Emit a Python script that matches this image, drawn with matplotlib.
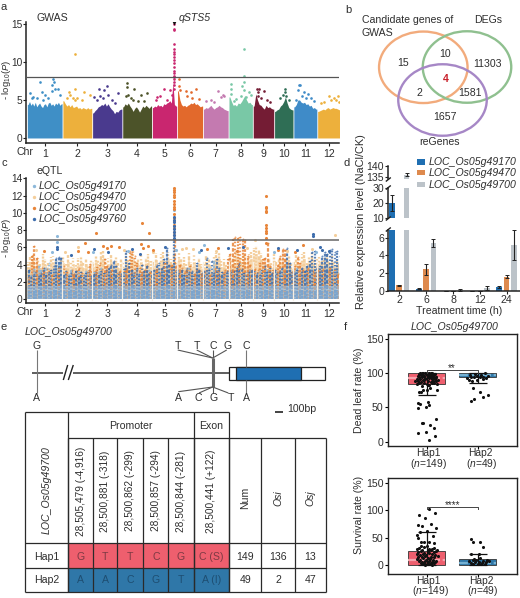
import matplotlib
matplotlib.use('Agg')
import matplotlib.pyplot as plt
from matplotlib.patches import Ellipse, Rectangle

plt.rcParams['font.family'] = ['Liberation Sans', 'DejaVu Sans']
plt.rcParams['mathtext.fontset'] = 'custom'
plt.rcParams['mathtext.rm'] = 'Liberation Sans'
plt.rcParams['mathtext.it'] = 'Liberation Sans:italic'
plt.rcParams['mathtext.default'] = 'regular'
INK = '#2e2e2e'
plt.rcParams['text.color'] = INK

# ---------- data ----------
chroms = ['1','2','3','4','5','6','7','8','9','10','11','12']
chr_sizes = [41.5,34.5,35,34.5,29,30,29.5,28,24.5,22,27.5,27]
chr_colors = ['#3F8FC6','#EDB03C','#4A3A8E','#4C5329','#C9266F','#E2692C','#C47AB0','#79C8A6','#741C34','#2F6E55','#3F8BC8','#EDB03C']
gwas_body = [
 [4.4,4.8,4.3,4.6,4.2,4.7,4.1,4.4,4.6,4.2,4.0,4.4,4.5,4.1,4.6,4.7,4.3,4.5,4.2,4.6,4.4,4.7,4.3,4.5],
 [4.9,4.5,4.2,4.4,4.1,4.4,4.0,4.1,4.2,3.9,4.0,3.8,4.0,3.9,3.8,4.0,3.8,3.9],
 [3.3,3.6,3.8,4.1,4.2,4.4,4.3,4.6,4.2,4.5,4.1,3.8,3.6,3.2,3.5,3.4,3.7,3.8],
 [4.1,4.5,4.3,4.6,4.2,3.9,3.5,3.9,4.1,3.8,3.4,3.8,4.2,4.0,4.3,4.1,3.9,4.2],
 [4.0,4.2,4.1,4.4,4.2,4.3,4.1,4.5,4.4,4.6,4.7,4.9,4.6,7.4,4.4,4.2],
 [6.2,5.0,4.4,4.2,4.3,4.1,4.3,4.4,4.6,4.5,4.7,4.4,4.5,4.3,4.1,4.2],
 [3.8,4.0,3.9,4.1,4.3,4.0,3.8,4.0,4.1,4.3,4.1,4.0,3.8,3.7,3.6],
 [5.4,4.8,4.3,4.4,4.2,4.6,4.5,4.8,5.2,5.6,5.0,4.6,4.7,4.4],
 [4.2,5.8,5.0,4.4,4.3,4.0,3.8,4.3,4.0,4.1,3.9,3.8],
 [3.5,3.7,3.8,4.2,4.4,4.8,5.4,4.6,4.0,3.8,3.7],
 [4.1,4.4,5.0,5.0,4.7,4.6,4.7,4.4,4.5,4.2,4.3,3.9,4.0,3.8],
 [3.5,3.6,3.7,3.8,3.7,3.9,4.0,3.8,3.9,4.0,3.9,3.9,3.8,3.7],
]
gwas_pos = [
 [15,31,32,30,33,37,3,7,17,21,29,39,11,25,5,19],
 [14,15,25,32,7,9,17,23,5,12,15],
 [8,17,14,30,2,9,19,23,12,5,27],
 [5,5,14,22,29,6,10,4,18,12,25],
 [26,26,26,26,26,26,26,26,26,26,26,26,26,26,26,26,26,26,26,14,21,6,9.5,17.5,4,23.5],
 [2,1.5,10,16,21.5,3.5,11.5,17.5,25.5],
 [17.5,23,21,9,3,13,25],
 [17.5,17.5,3,3,17.5,16,17.5,24,26,3,14,20,8,6],
 [5,7,6,12.5,6,17,20.5,9],
 [12,13,10,6,17,14],
 [6.5,7.5,5.5,12.5,16.5,10,20,24,2.5,14],
 [24,14,20,16,8,22,4,26],
]
gwas_val = [
 [7.3,7.7,7.4,7.0,6.5,6.4,5.9,5.4,6.0,5.7,6.2,5.6,5.2,5.3,5.2,5.0],
 [11.0,6.4,6.0,5.6,6.0,5.6,5.3,5.0,5.2,5.2,5.0],
 [6.5,6.9,6.3,5.9,5.4,5.5,5.6,5.0,5.2,5.0,4.6],
 [7.2,6.7,6.4,5.6,5.9,5.6,5.3,5.5,4.9,5.0,4.9],
 [15,14.4,14.2,12.3,11.7,11.3,11.0,10.6,10.3,9.8,9.3,8.8,8.5,8.2,8.0,7.7,7.4,7.0,6.5,6.5,6.3,5.4,5.5,5.0,5.0,5.6],
 [7.7,6.9,6.2,6.1,6.5,6.3,5.5,5.3,5.1],
 [6.2,5.6,5.4,5.0,4.9,4.8,5.5],
 [11.7,8.1,7.1,6.5,7.4,6.8,6.3,6.0,5.6,5.8,5.5,5.4,5.1,4.9],
 [6.4,6.4,6.0,6.2,5.5,5.0,4.8,5.2],
 [6.4,6.0,5.6,5.2,5.0,5.5],
 [7.0,7.0,6.3,6.0,5.8,5.5,5.2,4.9,5.0,5.3],
 [5.5,5.5,5.3,5.0,4.7,5.0,4.6,4.8],
]
gwas_threshold = 8.0

genes_c = ['LOC_Os05g49170','LOC_Os05g49470','LOC_Os05g49700','LOC_Os05g49760']
colors_c = ['#8DB8DA','#F4CE9B','#E8853A','#3D6DAD']
eqtl_threshold = 6.8
eqtl_170 = [3.2,2.8,3.5,3.0,3.8,3.4,3.0,3.6,4.2,3.1,3.5,4.4,4.2,3.8,
 2.6,3.1,2.9,3.4,2.7,3.0,3.3,2.8,2.6,3.2,2.9,2.7,
 3.1,2.6,3.3,3.6,3.0,2.8,3.2,2.7,3.1,2.9,2.6,3.0,
 3.0,3.6,3.3,2.8,3.1,3.5,2.9,2.6,3.2,3.0,3.4,2.8,
 3.3,3.0,3.6,3.2,2.9,3.4,3.1,3.7,4.0,3.2,
 3.4,3.0,2.8,3.3,3.6,3.1,2.7,3.0,3.2,2.8,
 2.9,3.2,3.6,3.0,4.4,3.1,3.5,2.9,2.7,3.0,
 3.1,2.8,2.6,3.0,3.2,2.9,2.7,3.1,3.4,3.0,
 3.2,2.9,3.3,2.8,3.0,3.4,3.1,2.7,
 3.0,3.3,2.9,3.5,3.2,4.0,3.4,3.0,
 3.2,3.6,3.0,2.8,3.3,3.5,3.1,3.8,3.4,3.0,
 3.1,3.4,3.0,3.6,3.3,3.8,3.2,3.5,3.0]
eqtl_470 = [4.3,4.9,5.1,4.5,4.7,4.1,5.2,4.6,4.2,4.9,5.0,4.4,4.0,4.8,
 4.9,4.1,5.1,4.3,4.8,3.9,4.7,5.0,4.2,4.8,4.0,4.6,
 4.3,5.0,4.5,5.4,5.6,4.4,4.8,5.1,4.0,4.9,4.2,4.8,
 4.4,5.2,4.5,5.3,5.6,4.3,4.7,5.1,4.1,4.8,5.2,4.4,
 4.5,5.3,4.2,5.2,5.5,4.4,5.4,4.6,5.2,4.3,
 5.4,4.6,4.9,4.2,5.3,4.3,5.1,4.0,4.8,4.1,
 4.2,5.1,4.6,4.0,4.9,5.3,5.5,4.4,4.6,3.9,
 5.0,4.5,4.9,5.6,5.5,4.7,5.1,4.3,5.2,5.5,
 5.9,6.1,5.8,5.3,4.6,4.1,4.8,4.2,
 5.2,4.4,4.7,5.0,4.2,4.8,5.0,4.1,
 4.3,5.1,4.6,5.2,5.4,4.2,4.9,5.3,4.5,4.8,
 5.1,4.4,4.7,5.2,4.5,5.0,4.3,4.6,4.2]
eqtl_700 = [2.5,5.0,6.2,4.8,3.0,3.6,3.1,3.5,3.2,2.8,3.4,3.0,3.6,2.6,
 3.8,3.1,2.8,3.4,2.9,3.2,3.6,3.0,2.6,3.1,4.1,3.2,
 3.2,3.7,4.2,3.5,4.6,3.8,3.1,3.4,2.8,3.0,3.3,2.9,
 3.3,3.6,5.6,5.4,5.0,4.2,3.6,3.1,3.4,3.8,3.1,3.0,
 3.2,3.5,3.0,3.6,4.2,3.3,3.8,4.0,6.8,4.0,
 4.0,3.6,3.2,3.4,3.8,3.1,2.9,3.5,3.2,2.9,
 3.1,3.4,2.8,3.0,3.6,3.2,2.7,3.0,3.4,4.6,
 5.2,7.0,7.2,7.1,7.2,7.0,6.8,5.0,4.0,3.4,
 3.5,3.4,4.2,4.6,4.8,6.5,3.8,3.4,
 3.4,4.0,5.0,5.8,5.7,4.2,3.0,3.2,
 3.8,4.9,4.2,3.4,3.1,3.6,3.0,3.3,3.0,3.4,
 3.2,3.5,3.0,3.3,3.6,3.1,3.4,2.9,3.2]
eqtl_760 = [3.4,2.6,2.9,3.2,2.7,3.0,3.6,2.8,3.1,3.4,3.8,4.8,4.9,4.7,
 2.8,3.2,2.7,3.0,2.9,3.3,2.6,3.1,2.8,3.0,3.4,2.7,
 2.9,3.1,2.8,3.3,3.0,3.4,3.6,4.0,4.4,3.8,3.1,2.9,
 3.5,5.6,4.2,3.4,3.0,3.6,2.9,4.0,3.2,3.8,3.0,3.2,
 3.4,3.9,4.2,3.6,4.6,5.9,4.0,3.8,7.0,3.4,
 3.0,3.4,2.8,3.6,3.1,3.3,2.9,4.2,3.4,3.0,
 3.2,4.8,3.4,4.4,3.0,4.6,3.6,3.1,2.9,3.3,
 3.0,3.4,3.2,3.6,4.2,3.5,3.0,2.8,3.1,3.4,
 3.2,3.0,2.8,3.4,3.8,3.1,3.6,3.0,
 3.4,3.0,3.3,3.6,3.2,5.9,4.2,3.1,
 3.0,3.4,2.9,3.6,3.2,3.8,4.4,5.5,5.6,3.6,
 3.8,5.0,5.4,5.2,5.7,5.8,5.5,5.6,5.0]
eqtl_pts_x = {
 0: [35,175,35,211,30,78,120,178,205,295,345],
 1: [368,272,190,198,10,45,60,115,150,185,225,262,310,340],
 2: [175]*17 + [82,136.7,146] + [285.7]*11 + [69,91,136,144.6,20,60,72,95,100,110,138,150,215,228,250,330,300,320],
 3: [175]*8 + [342,342,35,35,52,80,97,125,135,165,208,240,258,300,322,350,352,360],
}
eqtl_pts_y = {
 0: [7.3,10.3,6.6,6.3,5.5,5.4,5.6,5.7,5.4,5.5,5.4],
 1: [7.4,6.9,5.9,5.8,5.7,5.5,6.0,5.7,5.5,5.8,5.6,5.9,5.6,5.8],
 2: [12.9,12.7,12.4,12.1,11.8,11.4,11.0,10.7,10.4,9.9,9.4,9.0,8.6,8.2,7.8,7.4,7.0,
     7.7,8.8,7.6,12.0,10.7,10.6,10.2,10.1,8.6,8.2,7.9,7.7,7.1,6.5,6.5,6.2,6.4,6.2,
     5.6,5.6,5.4,5.9,6.2,6.0,5.9,5.7,5.8,5.9,5.6,6.3,5.7,5.5],
 3: [9.5,9.2,8.9,8.5,8.1,7.8,7.4,7.1,7.5,7.3,5.8,6.0,5.1,5.8,5.5,5.8,5.2,6.0,5.7,5.9,6.0,5.9,5.7,6.0,5.7,5.6],
}

times = ['2','6','8','12','24']
genes_d = ['LOC_Os05g49170','LOC_Os05g49470','LOC_Os05g49700']
colors_d = ['#1F6FB2','#DE8A4E','#BCC3C9']
expr_vals = [[20,0.2,0,0,0.4],[0.6,2.4,0.02,0.02,1.6],[136,5.4,0.1,0.3,5.2]]
expr_errs = [[5.5,0.05,0,0,0.15],[0.05,0.65,0,0,0.15],[0.5,0.45,0.1,0.2,1.7]]

venn_labels = ['15','10','11303','4','2','1581','1657']
positions = ['28,505,479 (-4,916)','28,500,881 (-318)','28,500,862 (-299)','28,500,857 (-294)','28,500,844 (-281)','28,500,441 (+122)']
hap1_row = ['G','T','T','C','G','C (S)']
hap2_row = ['A','A','C','G','T','A (I)']
hap1_counts = ['149','136','13']
hap2_counts = ['49','2','47']

dead_box = [(84,93,100),(94,97,100)]
dead_whisk = [(68,100),(86,100)]
surv_box = [(0,10,26),(0,4,11)]
surv_whisk = [(0,61),(0,21)]
dead1_x = [.05,-.17,-.02,.15,.17,-.10,.07,.18,-.08,-.18,-.14,-.18,.03,-.02,.05,-.16,-.11,-.07,.01,.07,.2,.03,
 -.2,-.15,-.1,-.05,0,.05,.1,.15,.2,-.22,-.18,-.12,-.06,.02,.08,.13,.18,-.2,-.14,-.08,-.03,.04,.1,.16,.22,-.16,-.1,-.04,.03,.09,.14,.19,
 -.18,-.12,-.06,0,.06,.12,.18,-.15,-.09,-.02,.05,.11,.17,-.13,-.07,.01,.08,.15,-.1,-.03,.04,.11]
dead1_y = [2,13,13.6,20,9,28,25,33,27,56,55,49,58,50,54,73,72,75,75,78,76,83,
 84,86,82,85,84,83,86,85,84,88,89,87,90,88,87,89,88,91,92,90,91,93,92,91,90,94,95,93,94,95,93,94,
 96,97,96,98,97,96,95,99,98,99,98,97,99,100,100,100,100,99,100,100,100,100]
dead2_x = [-.09,.05,.1,.2,-.14,-.07,-.18,-.12,-.02,.11,-.2,-.14,-.08,-.02,.04,.1,.16,.2,-.16,-.06,.06,.14]
dead2_y = [79,73,66,68,60,62,90,89,90,92,93,95,94,96,95,94,93,96,98,99,98,100]
surv1_x = [-.16,.05,-.03,.17,-.18,-.09,.09,.18,-.14,-.19,-.18,0,.12,-.11,-.05,.05,.15,-.11,
 -.2,-.15,-.1,-.05,0,.05,.1,.15,.2,-.18,-.12,-.06,.02,.08,.14,.19,-.2,-.13,-.08,-.02,.04,.1,.16,.22,-.17,-.1,-.04,.03,.09,.15,
 -.19,-.14,-.07,-.01,.06,.12,.18,-.16,-.09,-.03,.04,.1,.16,-.12,-.05,.02,.08,.14,-.08,0,.07,-.04,.03,.11]
surv1_y = [91,102,86,95.5,73,72,75,67,61,55,50,62,54,42,42,43,40,34,
 30,32,28,33,35,30,29,31,27,24,26,22,25,27,23,26,20,18,21,19,22,20,18,17,15,14,16,13,15,14,
 11,10,12,9,11,10,8,7,6,8,7,5,6,4,3,5,4,3,2,1,2,0,1,0]
surv2_x = [-.14,-.09,.05,.1,-.14,.02,-.07,-.18,-.1,-.03,.04,.11,.18,.22,-.14,-.06,.02,.09,.16,-.1,0,.07,.14]
surv2_y = [48,42,43,33,21,21,11,8,9,10,12,8,9,7,4,5,6,3,5,1,2,1,2]

# ---------- helpers ----------
W, H = 520, 598
fig = plt.figure(figsize=(W/100, H/100), dpi=100)
def ax_px(x0, y0, x1, y1, **kw):
    return fig.add_axes([x0/W, 1-y1/H, (x1-x0)/W, (y1-y0)/H], **kw)
ov = ax_px(0, 0, W, H)
ov.set_xlim(0, W); ov.set_ylim(H, 0); ov.axis('off'); ov.set_zorder(10); ov.patch.set_alpha(0)
def T(x, y, s, size=7.6, ha='center', va='center', **kw):
    ov.text(x, y, s, fontsize=size, ha=ha, va=va, **kw)
def L(xs, ys, c=INK, lw=0.8, **kw):
    ov.plot(xs, ys, color=c, lw=lw, solid_capstyle='butt', **kw)
def style(ax):
    for s in ['top','right']:
        ax.spines[s].set_visible(False)
    for s in ['left','bottom']:
        ax.spines[s].set_linewidth(1.1); ax.spines[s].set_color('#222222')
    ax.patch.set_alpha(0)
    ax.tick_params(labelsize=7.6, length=2, width=0.8, pad=1, color='#222222', labelcolor=INK)

for (x, y, s) in [(4,7,'a'),(348,10,'b'),(4,163,'c'),(347,163,'d'),(4,327,'e'),(345,327,'f')]:
    T(x, y, s, size=8)

starts = []
c = 0
for s in chr_sizes:
    starts.append(c); c += s + 1
mids = [st + s/2 for st, s in zip(starts, chr_sizes)]

# ---------- panel a ----------
a = ax_px(26, 22, 339, 143); style(a)
a.set_xlim(-1.6, 372.5); a.set_ylim(-0.66, 15.26)
for i, st in enumerate(starts):
    n = len(gwas_body[i]); w = chr_sizes[i]/n
    xs_b = [st] + [st + (j+.5)*w for j in range(n)] + [st + chr_sizes[i]]
    ys_b = [gwas_body[i][0]] + gwas_body[i] + [gwas_body[i][-1]]
    a.fill_between(xs_b, 0, ys_b, color=chr_colors[i], lw=0)
    a.scatter([st + p for p in gwas_pos[i]], gwas_val[i], s=3.6, color=chr_colors[i], lw=0, zorder=3)
a.scatter([starts[4]+26], [15.1], marker='v', s=9, color='#111111', lw=0, zorder=4)
a.axhline(gwas_threshold, color='#555555', lw=0.9, zorder=5)
a.set_yticks([0,5,10,15]); a.set_xticks(mids); a.set_xticklabels(chroms)
a.tick_params(axis='x', pad=2)
a.tick_params(axis='y', labelsize=7.3, pad=.5)
T(25, 151.7, 'Chr')
T(52, 17.7, 'GWAS'); T(195, 17.7, 'qSTS5', style='italic')
T(6.4, 80, r'- log$_{10}$($\mathit{P}$)', rotation=90, size=6.8)

# ---------- panel c ----------
cx = ax_px(26, 178, 339, 303.3); style(cx)
cx.set_xlim(-1.6, 372.5); cx.set_ylim(-0.5, 14.04)
bins = [i*3 + 1.5 for i in range(len(eqtl_170))]
cx.bar(bins, [v*0.85 for v in eqtl_470], width=3, color='#F4CE9B', alpha=.6, lw=0, zorder=1)
dash_cycle = [(0.0,(.8,.6)),(.7,(1.3,.5)),(1.3,(.6,1.0)),(.3,(1.6,.8)),(1.1,(.9,.5)),(.5,(.7,.9)),(1.6,(1.2,.7))]
shifts = {0: 0, 1: -.8, 2: .8, 3: 0}
series = [eqtl_170, eqtl_470, eqtl_700, eqtl_760]
z = 2
idx = list(range(len(bins)))
cx.vlines([bins[i]+shifts[1] for i in idx], 0, [series[1][i] for i in idx], color=colors_c[1], lw=1.7,
          linestyles=[dash_cycle[(i*3) % 7] for i in idx], zorder=z)
for p in range(3):
    for g in [2, 0, 3]:
        z += .1
        idx = [i for i in range(len(bins)) if (i + g) % 3 == p]
        cx.vlines([bins[i]+shifts[g] for i in idx], 0, [series[g][i] for i in idx], color=colors_c[g], lw=1.6,
                  linestyles=[dash_cycle[(i*2+g) % 7] for i in idx], alpha=.85, zorder=z)
        cx.scatter([bins[i]+shifts[g] for i in idx], [series[g][i] for i in idx], s=2, color=colors_c[g], lw=0, alpha=.7, zorder=z)
cx.bar(bins, [1.5]*len(bins), width=3, color='#9CBFDF', alpha=.6, lw=0, zorder=6)
cx.vlines(bins, 0, [1.1]*len(bins), color='#7BA5CE', lw=1.5,
          linestyles=[dash_cycle[(i*5) % 7] for i in range(len(bins))], zorder=6.1, alpha=.9)
for st in starts[1:]:
    cx.axvline(st - .5, ymin=0.03, ymax=.33, color='#F6EFE4', lw=.9, zorder=6.5)
for g in [1, 0, 2, 3]:
    cx.scatter(eqtl_pts_x[g], eqtl_pts_y[g], s=5, color=colors_c[g], lw=0, zorder=7)
cx.axhline(eqtl_threshold, color='#666666', lw=1.1, zorder=8)
cx.set_yticks([0,2,4,6,8,10,12,14]); cx.set_xticks(mids); cx.set_xticklabels(chroms)
cx.tick_params(axis='x', pad=2)
cx.tick_params(axis='y', labelsize=7.3, pad=.5)
T(25, 312, 'Chr')
T(50, 171, 'eQTL')
T(6.4, 238, r'- log$_{10}$($\mathit{P}$)', rotation=90, size=6.8)
for g, y in enumerate([186, 197, 208, 219.3]):
    ov.scatter([33.5], [y], s=6, color=colors_c[g], lw=0)
    T(38.7, y, genes_c[g], ha='left', style='italic')

# ---------- panel b ----------
for (cxx, cy, col) in [(423.3, 67.3, '#F2AB7C'), (467, 67, '#8FC08F'), (442.5, 100, '#A687C6')]:
    ov.add_patch(Ellipse((cxx, cy), 88.5, 71.5, fill=False, ec=col, lw=1.7))
T(362, 20, 'Candidate genes of', ha='left', va='center')
T(362, 32.5, 'GWAS', ha='left')
T(488, 20, 'DEGs')
T(440, 142, 'reGenes')
for (x, y, s) in zip([403,445,487,445.5,419.5,470,445], [63.5,54,64,79,93.5,93.5,117], venn_labels):
    if s == '4':
        T(x, y, s, color='#C8202A', fontweight='bold')
    else:
        T(x, y, s)

# ---------- panel d ----------
dx0, dx1 = 388.3, 520
xlim_d = (-0.41, 4.5)
xs = list(range(5))
width, off = 0.21, 0.275
def bars(ax):
    for k in range(3):
        ax.bar([x + (k-1)*off for x in xs], expr_vals[k], width=width, color=colors_d[k], lw=0)
        ax.errorbar([x + (k-1)*off for x in xs], expr_vals[k], yerr=expr_errs[k], fmt='none',
                    ecolor='#222222', elinewidth=.8, capsize=1.2, capthick=.7)
    ax.set_xlim(*xlim_d); style(ax)
d1 = ax_px(dx0, 229.7, dx1, 290.7); bars(d1)
d1.set_ylim(0, 6.9); d1.set_yticks([0,2,4,6]); d1.set_xticks(xs); d1.set_xticklabels(times)
d2 = ax_px(dx0, 188.3, dx1, 218); bars(d2)
d2.set_ylim(10, 30); d2.set_yticks([10,20,30]); d2.set_xticks([]); d2.spines['bottom'].set_visible(False)
d3 = ax_px(dx0, 165.7, dx1, 179); bars(d3)
d3.set_ylim(134, 140); d3.set_yticks([135,140]); d3.set_xticks([]); d3.spines['bottom'].set_visible(False)
for y in [179.5, 187.5, 218.5, 229.5]:
    L([dx0-2.5, dx0+2.5], [y+2, y-2], c='#222222', lw=1)
T(361, 222, 'Relative expression level (NaCl/CK)', rotation=90, size=7.9)
T(459, 310.7, 'Treatment time (h)')
for k, y in enumerate([162, 172.7, 184.7]):
    ov.add_patch(Rectangle((417, y-2.8), 8, 5.6, color=colors_d[k], lw=0))
    T(429, y, genes_d[k], ha='left', style='italic')

# ---------- panel e ----------
T(25, 331.7, 'LOC_Os05g49700', ha='left', style='italic')
LG = '#777777'
L([32.3, 63.3], [373, 373], c='#333333', lw=1.1)
L([73.3, 228.5], [373, 373], c='#333333', lw=1.1)
L([63.3, 67.7], [380, 365], c='#222222', lw=1)
L([68.3, 73.3], [380, 365], c='#222222', lw=1)
L([36.7, 36.7], [350, 393], c=LG)
L([245.7, 245.7], [350, 367], c=LG); L([245.7, 245.7], [380, 393], c=LG)
L([212.7, 212.7], [358, 387], c='#666666', lw=2.2)
for xe, ye, xb, yb in [(177.7,350,212.7,358),(196.7,350,212.7,358),(213,350,213,358),(226.7,350,212.7,358),
                       (178.3,391.7,212.7,387),(199,393,212.7,387),(213.3,393,213.3,387),(228.3,393,212.7,387)]:
    L([xe, xb], [ye, yb], c='#555555')
for x, s in zip([36.7,178.3,197.3,213.3,227.7,246], ['G','T','T','C','G','C']):
    T(x, 345.7, s)
for x, s in zip([36.7,178.3,198.3,213.3,230.7,246], ['A','A','C','G','T','A']):
    T(x, 398.3, s)
ov.add_patch(Rectangle((228.7, 366.7), 96.6, 13.3, fc='white', ec='#222222', lw=.9))
ov.add_patch(Rectangle((236, 366.7), 65, 13.3, fc='#1F6FB2', ec='#222222', lw=.9))
L([275, 282.7], [411.7, 411.7], c='#222222', lw=1.2)
T(287.7, 409, '100bp', ha='left')

# ---------- table ----------
col_x = [68.3,93.3,117.3,143.3,168.3,193.7,229.3,261,295,325.7]
row_y = [438.3,543.3,568.3,592.3]
RED, BLUE = '#EE5F6E', '#2F77A8'
for i in range(6):
    ov.add_patch(Rectangle((col_x[i], row_y[1]), col_x[i+1]-col_x[i], row_y[2]-row_y[1], color=RED, lw=0))
    ov.add_patch(Rectangle((col_x[i], row_y[2]), col_x[i+1]-col_x[i], row_y[3]-row_y[2], color=BLUE, lw=0))
    cxx = (col_x[i]+col_x[i+1])/2
    T(cxx, 491, positions[i], rotation=90, size=7.3)
    T(cxx, 556.7, hap1_row[i], color='#7E3A44')
    T(cxx, 580.3, hap2_row[i], color='#1E4E72')
for i, (h1, h2, lab) in enumerate(zip(hap1_counts, hap2_counts, ['Num','Osi','Osj'])):
    cxx = (col_x[6+i]+col_x[7+i])/2
    T(cxx, 556.7, h1); T(cxx, 580.3, h2)
    T(cxx, 498, lab, rotation=90, style='normal' if lab == 'Num' else 'italic')
T(47, 490, 'LOC_Os05g49700', rotation=90, style='italic')
T(46.5, 556.7, 'Hap1'); T(46.5, 580.3, 'Hap2')
T(131, 425.7, 'Promoter'); T(211.5, 425.7, 'Exon')
tk = '#2a2a2a'
L([25, 229.3], [412.3, 412.3], c=tk, lw=.9)
L([68.3, 325.7], [438.3, 438.3], c=tk, lw=.9)
for y in row_y[1:]:
    L([25, 325.7], [y, y], c=tk, lw=.9)
L([25, 25], [412.3, 592.3], c=tk, lw=.9)
L([68.3, 68.3], [412.3, 592.3], c=tk, lw=.9)
L([193.7, 193.7], [412.3, 592.3], c=tk, lw=.9)
L([229.3, 229.3], [412.3, 592.3], c=tk, lw=.9)
for x in col_x:
    L([x, x], [438.3, 592.3], c=tk, lw=.9)

# ---------- panel f ----------
def boxpanel(y0, y1, ylim, box, whisk, xs1, ys1, xs2, ys2, brk, stars, star_y):
    ax = ax_px(387.7, y0, 516.7, y1)
    ax.set_xlim(-0.765, 1.765); ax.set_ylim(*ylim)
    for k, (col, stripe) in enumerate([(RED, '#F5A5AE'), (BLUE, '#74B0D2')]):
        q1, m, q3 = box[k]
        ax.bar([k], [q3-q1], bottom=[q1], width=.72, color=col, ec='#333333', lw=.6, zorder=1)
        ax.hlines(m, k-.36, k+.36, color=stripe, lw=1.6, linestyles=[(0, (4, 1.2))], zorder=2)
        lo, hi = whisk[k]
        ax.errorbar([k], [(lo+hi)/2], yerr=[(hi-lo)/2], fmt='none', ecolor='#111111', elinewidth=.9, capsize=6.5, capthick=.9, zorder=3)
    ax.scatter(xs1, ys1, s=5, color='#111111', lw=0, zorder=4)
    ax.scatter([1 + v for v in xs2], ys2, s=5, color='#111111', lw=0, zorder=4)
    ax.plot([0, 0, 1, 1], [brk-3, brk, brk, brk-3], color='#444444', lw=.7, zorder=5)
    ax.text(.5, star_y, stars, ha='center', va='center', fontsize=7, zorder=5)
    ax.set_xticks([0, 1]); ax.set_xticklabels([])
    ax.set_yticks([0, 50, 100, 150])
    ax.tick_params(labelsize=7.6, length=2, width=.8, pad=1, labelcolor=INK)
    for s in ax.spines.values():
        s.set_linewidth(1); s.set_color('#222222')
    return ax
boxpanel(334, 446, (-6.3, 157.3), dead_box, dead_whisk, dead1_x, dead1_y, dead2_x, dead2_y, 104, '**', 108)
boxpanel(478.3, 574, (-16.5, 159), surv_box, surv_whisk, surv1_x, surv1_y, surv2_x, surv2_y, 106, '****', 110)
T(454.3, 327, 'LOC_Os05g49700', style='italic')
T(359, 390, 'Dead leaf rate (%)', rotation=90)
T(359, 515, 'Survival rate (%)', rotation=90)
for x, y, s in [(428.7,452.5,'Hap1'),(480,452.5,'Hap2'),(428.7,580.5,'Hap1'),(481.7,580.5,'Hap2')]:
    T(x, y, s, size=7.4)
for x, y, s in [(428.7,464,'149'),(482,464,'49'),(430.7,591.5,'149'),(483,591.5,'49')]:
    T(x, y, '($\\mathit{n}$=' + s + ')', size=7.4)

fig.savefig('out.png', dpi=100)
